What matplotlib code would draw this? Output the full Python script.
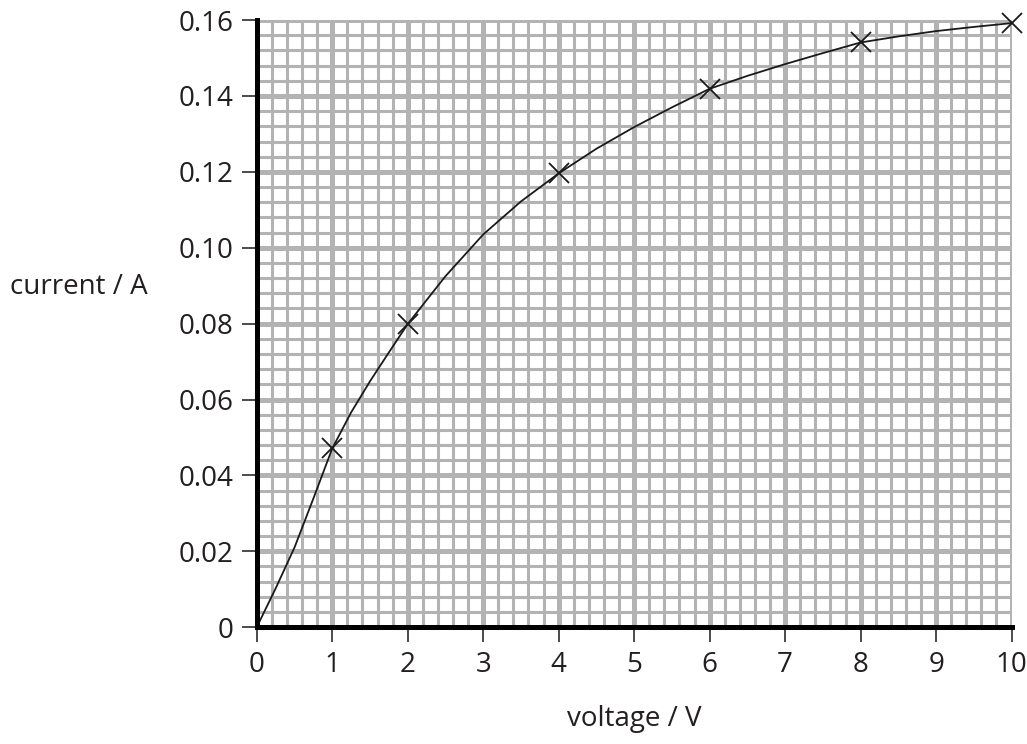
import matplotlib
matplotlib.use("Agg")
import matplotlib.pyplot as plt
from matplotlib.ticker import MultipleLocator

# measured points (crosses)
volts = [1, 2, 4, 6, 8, 10]
amps = [0.0471, 0.0799, 0.1196, 0.1419, 0.1541, 0.1592]

# best-fit curve
curve_v = [0, 0.25, 0.5, 0.75, 1, 1.25, 1.5, 1.75, 2, 2.5, 3, 3.5, 4, 4.5,
           5, 5.5, 6, 6.5, 7, 7.5, 8, 8.5, 9, 9.5, 10]
curve_i = [0, 0.0102, 0.0210, 0.0339, 0.0471, 0.0566, 0.0648, 0.0724,
           0.0799, 0.0925, 0.1035, 0.1122, 0.1196, 0.1261, 0.1318, 0.1370,
           0.1419, 0.1453, 0.1484, 0.1513, 0.1541, 0.1557, 0.1571, 0.1582,
           0.1592]

y_ticks = [0, 0.02, 0.04, 0.06, 0.08, 0.10, 0.12, 0.14, 0.16]
y_labels = ['0', '0.02', '0.04', '0.06', '0.08', '0.10', '0.12', '0.14', '0.16']
x_ticks = list(range(0, 11))

plt.rcParams['font.family'] = ['Open Sans', 'DejaVu Sans']
txt = '#231f20'
grid_col = '#b3b3b3'

fig = plt.figure(figsize=(10.27, 7.44), dpi=100)
ax = fig.add_axes([0.250, 0.157, 0.735, 0.816])

ax.set_xlim(0, 10)
ax.set_ylim(0, 0.16)

# graph paper: fine squares 0.2 V x 0.004 A, heavier lines every 1 V / 0.02 A
ax.xaxis.set_minor_locator(MultipleLocator(0.2))
ax.yaxis.set_minor_locator(MultipleLocator(0.004))
ax.set_axisbelow(True)
ax.grid(which='minor', color=grid_col, linewidth=2.2)
ax.grid(which='major', color=grid_col, linewidth=3.6)

ax.plot(curve_v, curve_i, color='#1a1a1a', linewidth=1.3, zorder=3)
ax.plot(volts, amps, linestyle='none', marker='x', markersize=14,
        markeredgewidth=1.3, color='#1a1a1a', zorder=4, clip_on=False)

ax.set_xticks(x_ticks)
ax.set_xticklabels([str(v) for v in x_ticks])
ax.set_yticks(y_ticks)
ax.set_yticklabels(y_labels)
ax.tick_params(which='major', direction='out', length=11, width=1.1,
               color='#1a1a1a', labelsize=20, labelcolor=txt, pad=6)
ax.tick_params(which='minor', length=0)

for side in ['top', 'right']:
    ax.spines[side].set_visible(False)
for side in ['left', 'bottom']:
    ax.spines[side].set_linewidth(3.6)
    ax.spines[side].set_color('black')
    ax.spines[side].set_zorder(5)

fig.text(10 / 1027, 1 - 287 / 744, 'current / A', ha='left', va='center',
         fontsize=20, color=txt)
fig.text(634 / 1027, 1 - 719 / 744, 'voltage / V', ha='center', va='center',
         fontsize=20, color=txt)

fig.savefig('out.png', dpi=100)
